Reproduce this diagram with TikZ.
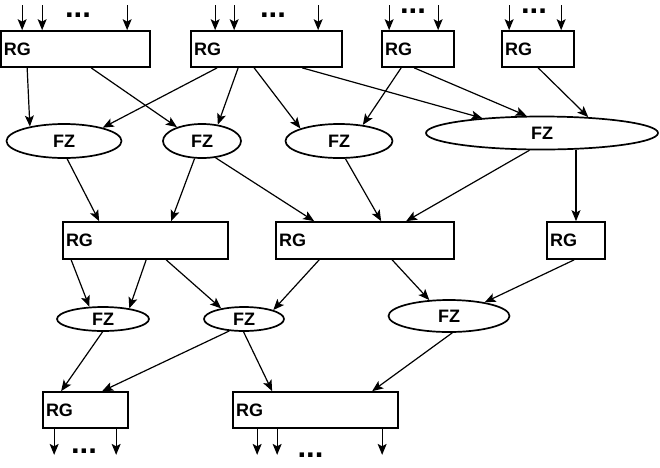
\documentclass[tikz,border=0pt]{standalone}
\usepackage{fontspec}
\setmainfont{Liberation Sans}
\usetikzlibrary{shapes.geometric,arrows.meta}
\tikzset{
  rg/.style={draw,line width=1.7pt,rectangle,inner xsep=3pt,inner ysep=0pt,align=left,font=\fontsize{18}{18}\selectfont\bfseries},
  fz/.style={draw,line width=1.7pt,ellipse,inner sep=0pt,font=\fontsize{18}{18}\selectfont\bfseries},
  arr/.style={line width=1.2pt,-{Stealth[length=11pt,width=9pt,inset=2.5pt]}},
  dots/.style={anchor=base,inner sep=0pt,text height=5pt,text depth=0pt,font=\fontsize{31}{31}\selectfont\bfseries}
}
\begin{document}
\begin{tikzpicture}[x=1pt,y=-1pt]
\useasboundingbox (0,0) rectangle (660,467);
% top row boxes
\node[rg,text width=143pt,minimum height=36pt] (rg1) at (75.5,49) {RG};
\node[rg,text width=145pt,minimum height=36pt] (rg2) at (266.5,49) {RG};
\node[rg,text width=66pt,minimum height=36pt] (rg3) at (418,49) {RG};
\node[rg,text width=66pt,minimum height=36pt] (rg4) at (538,49) {RG};
% second row ellipses
\node[fz,minimum width=115pt,minimum height=34pt] (fz1) at (64,141) {FZ};
\node[fz,minimum width=78pt,minimum height=34pt] (fz2) at (202,141) {FZ};
\node[fz,minimum width=107pt,minimum height=34pt] (fz3) at (339,141) {FZ};
\node[fz,minimum width=232pt,minimum height=33pt] (fz4) at (542,133) {FZ};
% third row boxes
\node[rg,text width=159pt,minimum height=37pt] (rg5) at (145.5,240.5) {RG};
\node[rg,text width=172pt,minimum height=37pt] (rg6) at (365,240.5) {RG};
\node[rg,text width=52pt,minimum height=37pt] (rg7) at (576,240.5) {RG};
% fourth row ellipses
\node[fz,minimum width=92pt,minimum height=24pt] (fz5) at (103,319) {FZ};
\node[fz,minimum width=80pt,minimum height=24pt] (fz6) at (244,319) {FZ};
\node[fz,minimum width=121pt,minimum height=32pt] (fz7) at (449,316) {FZ};
% bottom boxes
\node[rg,text width=79pt,minimum height=36pt] (rg8) at (85.5,410) {RG};
\node[rg,text width=159pt,minimum height=36pt] (rg9) at (315.5,410) {RG};

% input arrows
\foreach \n/\d in {rg1/22,rg1/42,rg1/127,rg2/25,rg2/44,rg2/128,rg3/8,rg3/57,rg4/8,rg4/60}
  \draw[arr] ([xshift=\d pt,yshift=25pt]\n.north west) -- ([xshift=\d pt]\n.north west);
\node[dots] (d1) at (78,17) {...};
\node[dots] (d2) at (273,17) {...};
\node[dots] (d3) at (413,13) {...};
\node[dots] (d4) at (534,13) {...};
% output arrows
\foreach \n/\d in {rg8/12,rg8/74,rg9/25,rg9/45,rg9/150}
  \draw[arr] ([xshift=\d pt]\n.south west) -- ([xshift=\d pt,yshift=-26pt]\n.south west);
\node[dots] (d5) at (84,453) {...};
\node[dots] (d6) at (310.5,457) {...};

% row1 -> row2
\draw[arr] ([xshift=27pt]rg1.south west) -- (fz1.157);
\draw[arr] ([xshift=91pt]rg1.south west) -- (fz2.151);
\draw[arr] ([xshift=27pt]rg2.south west) -- (fz1.19);
\draw[arr] ([xshift=48pt]rg2.south west) -- (fz2.46);
\draw[arr] ([xshift=64pt]rg2.south west) -- (fz3.162);
\draw[arr] ([xshift=112pt]rg2.south west) -- (fz4.166.5);
\draw[arr] ([xshift=20pt]rg3.south west) -- (fz3.34);
\draw[arr] ([xshift=33pt]rg3.south west) -- (fz4.132);
\draw[arr] ([xshift=37pt]rg4.south west) -- (fz4.19.6);
% row2 -> row3
\draw[arr] (fz1.-80) -- ([xshift=37pt]rg5.north west);
\draw[arr] (fz2.247) -- ([xshift=109pt]rg5.north west);
\draw[arr] (fz2.309) -- ([xshift=39pt]rg6.north west);
\draw[arr] (fz3.290) -- ([xshift=106pt]rg6.north west);
\draw[arr] (fz4.234) -- ([xshift=131pt]rg6.north west);
\draw[arr] (fz4.south -| rg7.north) -- (rg7.north);
% row3 -> row4
\draw[arr] ([xshift=9pt]rg5.south west) -- (fz5.138.5);
\draw[arr] ([xshift=84pt]rg5.south west) -- (fz5.22);
\draw[arr] ([xshift=104pt]rg5.south west) -- (fz6.155.5);
\draw[arr] ([xshift=44pt]rg6.south west) -- (fz6.17);
\draw[arr] ([xshift=117pt]rg6.south west) -- (fz7.141);
\draw[arr] ([xshift=28pt]rg7.south west) -- (fz7.21);
% row4 -> row5
\draw[arr] (fz5.268) -- ([xshift=19pt]rg8.north west);
\draw[arr] (fz6.219) -- ([xshift=60pt]rg8.north west);
\draw[arr] (fz6.268) -- ([xshift=40pt]rg9.north west);
\draw[arr] (fz7.281) -- ([xshift=140pt]rg9.north west);
\end{tikzpicture}
\end{document}
